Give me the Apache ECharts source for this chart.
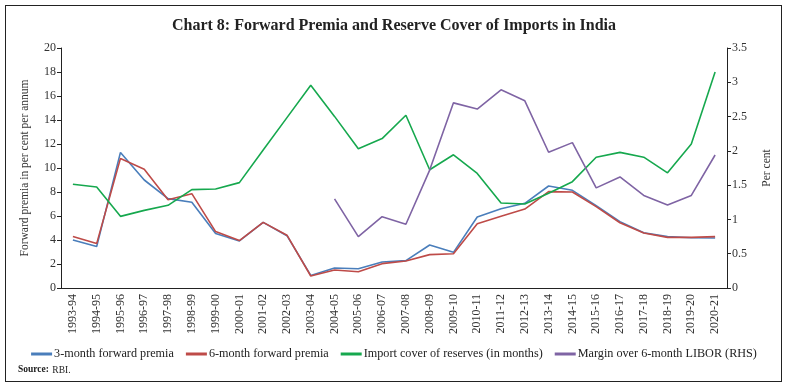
<!DOCTYPE html>
<html><head><meta charset="utf-8">
<script src="https://cdn.jsdelivr.net/npm/echarts@6/dist/echarts.min.js"></script>
<style>html,body{margin:0;padding:0;background:#fff}#c{width:788px;height:389px}
#frame{position:absolute;left:5px;top:5px;width:777px;height:377px;border:1.5px solid #222;box-sizing:border-box;pointer-events:none}</style>
</head><body><div id="c"></div><div id="frame"></div>
<script>
const categories = ['1993-94','1994-95','1995-96','1996-97','1997-98','1998-99','1999-00','2000-01','2001-02','2002-03','2003-04','2004-05','2005-06','2006-07','2007-08','2008-09','2009-10','2010-11','2011-12','2012-13','2013-14','2014-15','2015-16','2016-17','2017-18','2018-19','2019-20','2020-21'];
const fwd3m = [4.0,3.45,11.3,9.0,7.45,7.14,4.55,3.92,5.47,4.36,1.05,1.67,1.61,2.17,2.28,3.58,2.97,5.92,6.61,7.06,8.5,8.14,6.86,5.53,4.61,4.28,4.19,4.17];
const fwd6m = [4.3,3.7,10.8,9.9,7.36,7.86,4.7,3.95,5.47,4.4,1.0,1.5,1.36,2.03,2.25,2.78,2.86,5.36,5.97,6.58,8.03,8.0,6.78,5.44,4.58,4.22,4.22,4.28];
const importCover = [8.64,8.42,5.97,6.47,6.89,8.2,8.25,8.78,11.5,14.2,16.9,14.3,11.6,12.45,14.4,9.85,11.1,9.55,7.08,7.0,7.9,8.86,10.9,11.3,10.9,9.6,12.0,18.0];
const liborMargin = [null,null,null,null,null,null,null,null,null,null,null,1.30,0.75,1.04,0.93,1.72,2.70,2.61,2.89,2.73,1.98,2.12,1.46,1.62,1.35,1.21,1.35,1.94];
const seriesNames = ['3-month forward premia','6-month forward premia','Import cover of reserves (in months)','Margin over 6-month LIBOR (RHS)'];

const F = '"Liberation Serif","DejaVu Serif",serif';
const chart = echarts.init(document.getElementById('c'));
const mk = (name, data, color, yi) => ({name, type:'line', data, yAxisIndex: yi, symbol:'none', lineStyle:{color, width:1.6}, itemStyle:{color}, connectNulls:false});
chart.setOption({
  animation:false,
  title:{text:'Chart 8: Forward Premia and Reserve Cover of Imports in India', left:'center', top:13, textStyle:{fontFamily:F, fontSize:16, fontWeight:'bold', color:'#222'}},
  grid:{left:61, right:61, top:48, bottom:101},
  legend:{data:seriesNames, left:'center', top:343, icon:'rect', itemWidth:21, itemHeight:3, itemGap:12, textStyle:{fontFamily:F, fontSize:12.2, color:'#222', padding:[0,0,0,-3]}},
  graphic:[{type:'text', left:18, top:364, style:{rich:{b:{fontWeight:'bold',fontFamily:F,fontSize:9.5,fill:'#222'}, n:{fontFamily:F,fontSize:9.5,fill:'#222'}}, text:'{b|Source:} {n|RBI.}'}}],
  xAxis:{type:'category', data:categories, boundaryGap:true,
    axisLine:{lineStyle:{color:'#222'}}, axisTick:{lineStyle:{color:'#222'}, length:4},
    axisLabel:{rotate:90, interval:0, fontFamily:F, fontSize:12, color:'#333', margin:6}},
  yAxis:[
    {type:'value', min:0, max:20, interval:2, name:'Forward premia in per cent per annum', nameLocation:'middle', nameGap:30, nameRotate:90,
     nameTextStyle:{fontFamily:F, fontSize:11.5, color:'#333'},
     axisLine:{show:true, lineStyle:{color:'#222'}}, axisTick:{show:true, lineStyle:{color:'#222'}, length:4}, splitLine:{show:false},
     axisLabel:{fontFamily:F, fontSize:12, color:'#333', margin:5}},
    {type:'value', min:0, max:3.5, interval:0.5, name:'Per cent', nameLocation:'middle', nameGap:34, nameRotate:90,
     nameTextStyle:{fontFamily:F, fontSize:11.5, color:'#333'},
     axisLine:{show:true, lineStyle:{color:'#222'}}, axisTick:{show:true, lineStyle:{color:'#222'}, length:4}, splitLine:{show:false},
     axisLabel:{fontFamily:F, fontSize:12, color:'#333', margin:5}}
  ],
  series:[
    mk(seriesNames[0], fwd3m, '#4a7ebb', 0),
    mk(seriesNames[1], fwd6m, '#be4b48', 0),
    mk(seriesNames[2], importCover, '#16a84e', 0),
    mk(seriesNames[3], liborMargin, '#7f64a4', 1)
  ]
});
</script></body></html>
